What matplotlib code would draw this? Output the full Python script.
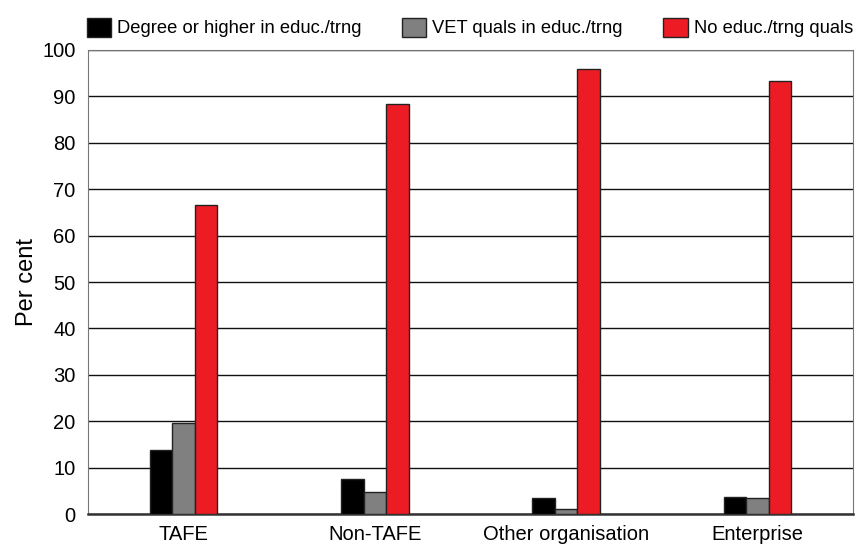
import matplotlib.pyplot as plt
import numpy as np

plt.rcParams['font.family'] = ['Liberation Sans', 'DejaVu Sans']

categories = ['TAFE', 'Non-TAFE', 'Other organisation', 'Enterprise']
series_names = ['Degree or higher in educ./trng', 'VET quals in educ./trng', 'No educ./trng quals']
degree = [13.9, 7.5, 3.4, 3.6]
vet = [19.7, 4.7, 1.1, 3.4]
no_quals = [66.6, 88.3, 95.8, 93.4]
colors = ['#000000', '#808080', '#ED1C24']

fig = plt.figure(figsize=(8.55, 5.47), dpi=100)
ax = fig.add_axes([0.1029, 0.0603, 0.8948, 0.8483])

x = np.arange(len(categories))
w = 0.118
for i, (vals, name, c) in enumerate(zip([degree, vet, no_quals], series_names, colors)):
    ax.bar(x + (i - 1) * w, vals, w, color=c, edgecolor='#222222', linewidth=1.0,
           label=name, zorder=3)

ax.set_xlim(-0.5, 3.5)
ax.set_ylim(0, 100)
ax.set_yticks(range(0, 101, 10))
ax.set_xticks(x)
ax.set_xticklabels(categories)
ax.tick_params(axis='both', length=0, labelsize=14.5)
ax.tick_params(axis='y', pad=9)
ax.tick_params(axis='x', pad=8)
ax.yaxis.grid(True, color='#111111', linewidth=1.0, zorder=0)
ax.set_ylabel('Per cent', fontsize=17, labelpad=3)
for s in ['left', 'top', 'right']:
    ax.spines[s].set_color('#777777')
ax.spines['bottom'].set_color('#333333')
ax.spines['bottom'].set_linewidth(1.8)

fig.legend(loc='upper left', bbox_to_anchor=(0.1017, 0.968), ncol=3, frameon=False,
           fontsize=13.2, handlelength=1.31, handleheight=1.26, handletextpad=0.33,
           columnspacing=2.22, borderaxespad=0.0, borderpad=0.0)

fig.savefig('out.png', dpi=100)
